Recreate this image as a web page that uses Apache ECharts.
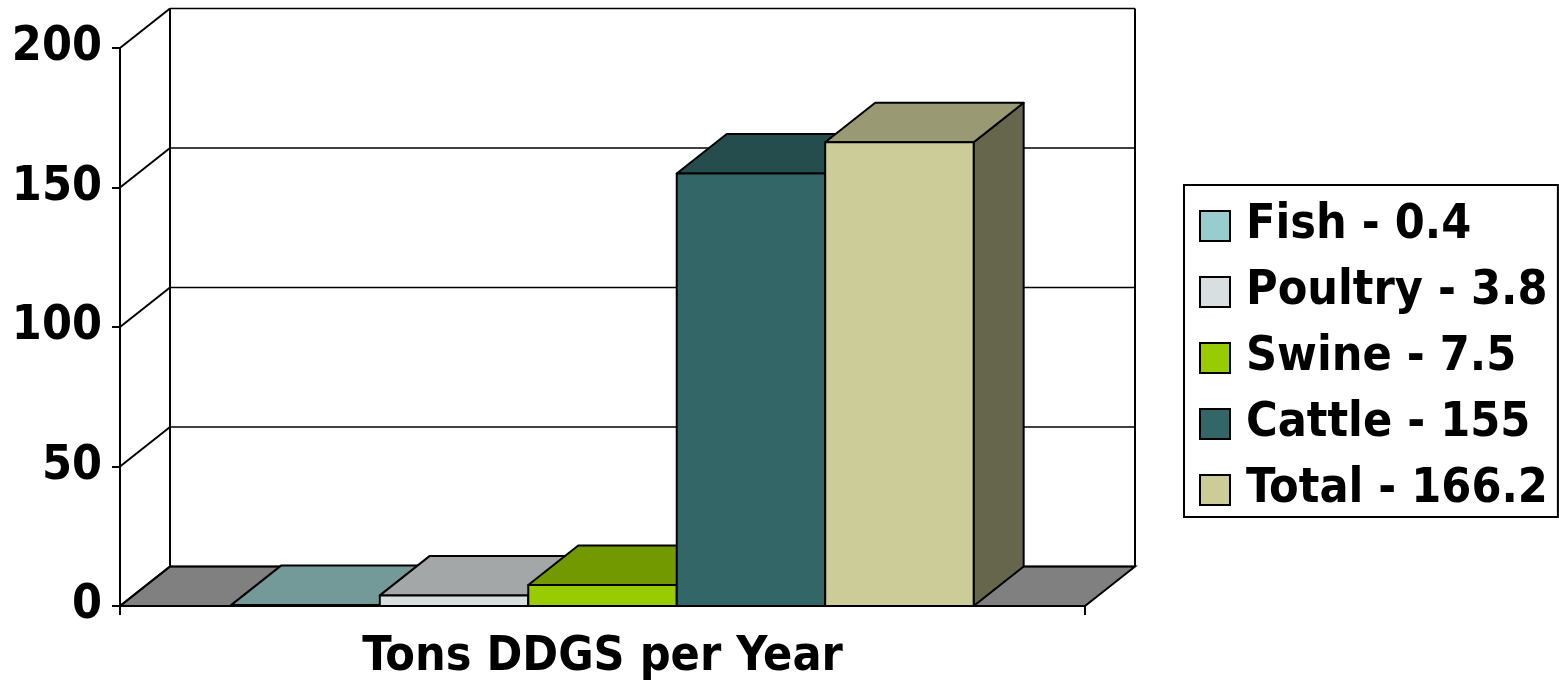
<!DOCTYPE html>
<html><head><meta charset="utf-8">
<script src="https://cdn.jsdelivr.net/npm/echarts@6/dist/echarts.min.js"></script>
<style>html,body{margin:0;padding:0;background:#fff}#c{width:1559px;height:682px}</style>
</head><body><div id="c"></div>
<script>
const categories = ['Tons DDGS per Year'];
const seriesNames = ['Fish', 'Poultry', 'Swine', 'Cattle', 'Total'];
const seriesValues = [0.4, 3.8, 7.5, 155, 166.2];
const seriesColors = ['#99CCCC', '#D9DFE0', '#99CC00', '#336666', '#CCCC99'];
const yTicks = [0, 50, 100, 150, 200];

const FONT = "'DejaVu Sans Condensed','DejaVu Sans',sans-serif";
const DX = 50, DY = 39.5;
const GAP = 1.5;
const LW = 2;

function shade(hex, f) {
  const n = parseInt(hex.slice(1), 16);
  const r = Math.round(((n >> 16) & 255) * f), g = Math.round(((n >> 8) & 255) * f), b = Math.round((n & 255) * f);
  return 'rgb(' + r + ',' + g + ',' + b + ')';
}

function frameRender(params, api) {
  const cs = params.coordSys;
  const xl = cs.x, xr = cs.x + cs.width;
  const y0 = api.coord([0, yTicks[0]])[1];
  const yTop = api.coord([0, yTicks[yTicks.length - 1]])[1];
  const ch = [];
  ch.push({ type: 'polygon', shape: { points: [[xl, y0], [xr, y0], [xr + DX, y0 - DY], [xl + DX, y0 - DY]] },
    style: { fill: '#808080', stroke: '#000', lineWidth: LW } });
  yTicks.forEach(function (v) {
    const y = api.coord([0, v])[1];
    ch.push({ type: 'line', shape: { x1: xl, y1: y, x2: xl + DX, y2: y - DY }, style: { stroke: '#000', lineWidth: LW } });
    ch.push({ type: 'line', shape: { x1: xl + DX, y1: y - DY, x2: xr + DX, y2: y - DY }, style: { stroke: '#000', lineWidth: 1.5 } });
  });
  ch.push({ type: 'line', shape: { x1: xl + DX, y1: yTop - DY, x2: xl + DX, y2: y0 - DY }, style: { stroke: '#000', lineWidth: LW } });
  ch.push({ type: 'line', shape: { x1: xr + DX, y1: yTop - DY, x2: xr + DX, y2: y0 - DY }, style: { stroke: '#000', lineWidth: LW } });
  return { type: 'group', children: ch };
}

function barRender(i) {
  return function (params, api) {
    const n = seriesNames.length;
    const band = api.size([1, 0])[0];
    const bw = band / (n + GAP);
    const base = api.coord([api.value(0), 0]);
    const top = api.coord([api.value(0), api.value(1)]);
    const x0 = base[0] - bw * n / 2 + i * bw, x1 = x0 + bw;
    const yb = base[1], yt = top[1];
    const c = seriesColors[i];
    const st = { stroke: '#000', lineWidth: LW, lineJoin: 'round' };
    return { type: 'group', children: [
      { type: 'polygon', shape: { points: [[x1, yb], [x1 + DX, yb - DY], [x1 + DX, yt - DY], [x1, yt]] }, style: Object.assign({ fill: shade(c, 0.5) }, st) },
      { type: 'polygon', shape: { points: [[x0, yt], [x1, yt], [x1 + DX, yt - DY], [x0 + DX, yt - DY]] }, style: Object.assign({ fill: shade(c, 0.75) }, st) },
      { type: 'rect', shape: { x: x0, y: yt, width: bw, height: yb - yt }, style: Object.assign({ fill: c }, st) }
    ] };
  };
}

const series = [{
  type: 'custom', name: '__frame', renderItem: frameRender, data: [[categories[0], 0]], silent: true, z: 1
}];
seriesNames.forEach(function (nm, i) {
  series.push({
    type: 'custom', name: nm + ' - ' + seriesValues[i], renderItem: barRender(i),
    itemStyle: { color: seriesColors[i] }, data: [[categories[0], seriesValues[i]]], z: 2
  });
});

const chart = echarts.init(document.getElementById('c'), null, { renderer: 'canvas' });
chart.setOption({
  animation: false,
  backgroundColor: '#fff',
  grid: { left: 120, right: 474, top: 48, bottom: 75, containLabel: false },
  xAxis: {
    type: 'category', data: categories,
    axisLine: { show: true, lineStyle: { color: '#000', width: 2 } },
    axisTick: { show: true, length: 9, lineStyle: { color: '#000', width: 2 } },
    axisLabel: { fontSize: 48, fontWeight: 'bold', color: '#000', fontFamily: FONT, margin: 28 },
    z: 5
  },
  yAxis: {
    type: 'value', min: 0, max: 200, interval: 50,
    axisLine: { show: true, lineStyle: { color: '#000', width: 2 } },
    axisTick: { show: true, length: 8, lineStyle: { color: '#000', width: 2 } },
    axisLabel: { fontSize: 48, fontWeight: 'bold', color: '#000', fontFamily: FONT, margin: 18, padding: [8, 0, 0, 0] },
    splitLine: { show: false },
    z: 5
  },
  legend: {
    data: seriesNames.map(function (nm, i) { return nm + ' - ' + seriesValues[i]; }),
    orient: 'vertical', left: 1184, top: 185,
    padding: [17, 10, 3, 15],
    borderColor: '#000', borderWidth: 2,
    itemWidth: 30, itemHeight: 30, itemGap: 18,
    icon: 'rect',
    itemStyle: { borderColor: '#000', borderWidth: 2 },
    textStyle: { fontSize: 48, fontWeight: 'bold', color: '#000', fontFamily: FONT, lineHeight: 48, padding: [0, 0, 0, 11] }
  },
  series: series
});
</script></body></html>
